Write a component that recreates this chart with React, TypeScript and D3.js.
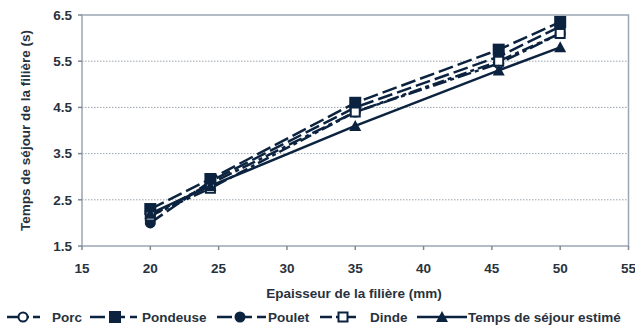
import React from "react";
import * as d3 from "d3";

const xValues = [20, 24.4, 35, 45.5, 50];
const porc = [2.15, 2.85, 4.4, 5.45, 6.1];
const pondeuse = [2.3, 2.95, 4.6, 5.75, 6.35];
const poulet = [2.0, 2.9, 4.5, 5.6, 6.25];
const dinde = [2.15, 2.75, 4.4, 5.5, 6.1];
const estime = [2.2, 2.8, 4.1, 5.3, 5.8];
const xTicks = [15, 20, 25, 30, 35, 40, 45, 50, 55];
const yTicks = [1.5, 2.5, 3.5, 4.5, 5.5, 6.5];
const seriesNames = ["Porc", "Pondeuse", "Poulet", "Dinde", "Temps de séjour estimé"];

const NAVY = "#0c2340";
const TXT = "#28323d";
const FONT = "'Liberation Sans', Arial, sans-serif";
const FS = 13.5;

type Marker = "circleOpen" | "square" | "circle" | "squareOpen" | "triangle";
const series: { name: string; values: number[]; dash: string; marker: Marker }[] = [
  { name: seriesNames[0], values: porc, dash: "14,4,4,4", marker: "circleOpen" },
  { name: seriesNames[1], values: pondeuse, dash: "15,5", marker: "square" },
  { name: seriesNames[2], values: poulet, dash: "15,5", marker: "circle" },
  { name: seriesNames[3], values: dinde, dash: "12,4,4,4", marker: "squareOpen" },
  { name: seriesNames[4], values: estime, dash: "", marker: "triangle" },
];

function MarkerShape({ type, x, y }: { type: Marker; x: number; y: number }) {
  switch (type) {
    case "circleOpen":
      return <circle cx={x} cy={y} r={4.5} fill="#fff" stroke={NAVY} strokeWidth={2} />;
    case "circle":
      return <circle cx={x} cy={y} r={5.5} fill={NAVY} />;
    case "square":
      return <rect x={x - 6} y={y - 6} width={12} height={12} fill={NAVY} />;
    case "squareOpen":
      return <rect x={x - 4.5} y={y - 4.5} width={9} height={9} fill="#fff" stroke={NAVY} strokeWidth={2} />;
    case "triangle":
      return <path d={`M${x},${y - 6}L${x + 6},${y + 5}L${x - 6},${y + 5}Z`} fill={NAVY} />;
  }
}

export default function App() {
  const W = 635, H = 326;
  const left = 82, right = 628.5, top = 15, bottom = 246;
  const x = d3.scaleLinear().domain([15, 55]).range([left, right]);
  const y = d3.scaleLinear().domain([1.5, 6.5]).range([bottom, top]);
  const line = d3.line<number>().x((_, i) => x(xValues[i])).y((d) => y(d));

  const legend = [
    { lx1: 7, lx2: 40, mx: 23, tx: 52 },
    { lx1: 90, lx2: 137, mx: 115, tx: 142 },
    { lx1: 217, lx2: 266, mx: 240, tx: 268 },
    { lx1: 320, lx2: 358, mx: 343, tx: 370 },
    { lx1: 417, lx2: 467, mx: 442, tx: 468 },
  ];

  return (
    <svg width={W} height={H} style={{ position: "absolute", left: 0, top: 0, background: "#fff" }} fontFamily={FONT}>
      {yTicks.slice(1, -1).map((t) => (
        <line key={t} x1={left} x2={right} y1={y(t)} y2={y(t)} stroke="#9aa4ad" strokeWidth={1} strokeDasharray="1.5,1.5" />
      ))}
      <rect x={left} y={top} width={right - left} height={bottom - top} fill="none" stroke="#9ba7b2" strokeWidth={1.5} />
      {yTicks.map((t) => (
        <g key={t}>
          <line x1={left - 4} x2={left} y1={y(t)} y2={y(t)} stroke="#7d8a96" strokeWidth={1.5} />
          <text x={72} y={y(t)} dy="0.35em" textAnchor="end" fontSize={FS} fontWeight="bold" fill={TXT}>
            {t.toFixed(1)}
          </text>
        </g>
      ))}
      {xTicks.map((t) => (
        <g key={t}>
          <line x1={x(t)} x2={x(t)} y1={bottom} y2={bottom + 4} stroke="#7d8a96" strokeWidth={1.5} />
          <text x={x(t)} y={268} dy="0.35em" textAnchor="middle" fontSize={FS} fontWeight="bold" fill={TXT}>
            {t}
          </text>
        </g>
      ))}
      <text x={354} y={293} dy="0.35em" textAnchor="middle" fontSize={FS} fontWeight="bold" fill={TXT}>
        Epaisseur de la filière (mm)
      </text>
      <text transform={`translate(25,${(top + bottom) / 2}) rotate(-90)`} dy="0.35em" textAnchor="middle" fontSize={FS} fontWeight="bold" fill={TXT}>
        Temps de séjour de la filière (s)
      </text>
      {series.map((s) => (
        <path key={s.name} d={line(s.values) || ""} fill="none" stroke={NAVY} strokeWidth={2.5} strokeDasharray={s.dash} />
      ))}
      {series.map((s) =>
        s.values.map((v, i) => <MarkerShape key={s.name + i} type={s.marker} x={x(xValues[i])} y={y(v)} />)
      )}
      {series.map((s, i) => {
        const L = legend[i];
        return (
          <g key={s.name}>
            <line x1={L.lx1} x2={L.lx2} y1={317} y2={317} stroke={NAVY} strokeWidth={2.5} strokeDasharray={s.dash} />
            <MarkerShape type={s.marker} x={L.mx} y={317} />
            <text x={L.tx} y={317} dy="0.35em" fontSize={FS} fontWeight="bold" fill={TXT}>
              {s.name}
            </text>
          </g>
        );
      })}
    </svg>
  );
}
